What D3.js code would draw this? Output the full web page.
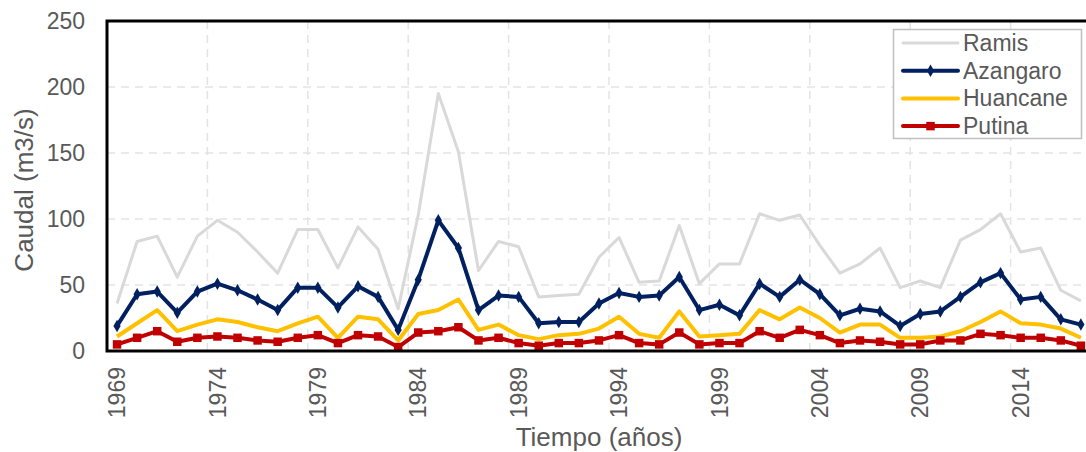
<!DOCTYPE html>
<html>
<body>
    <style>
        body, html {
            margin: 0;
            padding: 0;
            background: #fff;
            overflow: hidden;
        }
        svg text {
            font-family: "Liberation Sans", Arial, sans-serif;
            fill: #595959;
        }
    </style>

    <svg width="1086" height="452"></svg>

    <script src="https://d3js.org/d3.v7.min.js"></script>

    <script>
        var years = d3.range(1969, 2018);

        var ramis = [36, 83, 87, 56, 87, 99, 90, 75, 59, 92, 92, 63, 94, 77, 32, 103, 195, 151, 61, 83,
                     79, 41, 42, 43, 71, 86, 52, 53, 95, 51, 66, 66, 104, 99, 103, 80, 59, 66, 78, 48,
                     53, 48, 84, 92, 104, 75, 78, 46, 38];
        var azangaro = [19, 43, 45, 29, 45, 51, 46, 39, 31, 48, 48, 33, 49, 41, 16, 54, 99, 78, 31, 42,
                        41, 21, 22, 22, 36, 44, 41, 42, 56, 31, 35, 27, 51, 41, 54, 43, 27, 32, 30, 19,
                        28, 30, 41, 52, 59, 39, 41, 24, 20];
        var huancane = [11, 21, 31, 15, 20, 24, 22, 18, 15, 21, 26, 10, 26, 24, 8, 28, 31, 39, 16, 20,
                        12, 9, 12, 13, 17, 26, 13, 10, 30, 11, 12, 13, 31, 24, 33, 25, 14, 20, 20, 10,
                        10, 11, 15, 22, 30, 21, 20, 17, 10];
        var putina = [5, 10, 15, 7, 10, 11, 10, 8, 7, 10, 12, 6, 12, 11, 3, 14, 15, 18, 8, 10,
                      6, 4, 6, 6, 8, 12, 6, 5, 14, 5, 6, 6, 15, 10, 16, 12, 6, 8, 7, 5,
                      5, 8, 8, 13, 12, 10, 10, 8, 4];
        var yTicks = [0, 50, 100, 150, 200, 250];
        var xLabelYears = years.filter(function (y) { return (y - 1969) % 5 === 0; });

        var series = [
            { name: "Ramis", values: ramis, color: "#d9d9d9", width: 3, marker: null },
            { name: "Azangaro", values: azangaro, color: "#002060", width: 4, marker: "diamond" },
            { name: "Huancane", values: huancane, color: "#ffc000", width: 4, marker: null },
            { name: "Putina", values: putina, color: "#c00000", width: 4, marker: "square" }
        ];

        var svg = d3.select("svg");
        var plotLeft = 107, plotTop = 21, plotBottom = 351, plotRight = 107 + 49 * 20.08;

        var x = d3.scaleBand().domain(years).range([plotLeft, plotRight]).padding(0);
        var y = d3.scaleLinear().domain([0, 250]).range([plotBottom, plotTop]);
        var cx = function (yr) { return x(yr) + x.bandwidth() / 2; };

        // GRID
        var grid = svg.append("g");
        grid.selectAll(".hg").data(yTicks.filter(function (t) { return t > 0 && t < 250; }))
            .enter().append("line")
            .attr("x1", plotLeft).attr("x2", plotRight)
            .attr("y1", function (d) { return y(d); }).attr("y2", function (d) { return y(d); })
            .attr("stroke", "#e3e3e3").attr("stroke-width", 1.5).attr("stroke-dasharray", "8,6");
        grid.selectAll(".vg").data(xLabelYears.slice(1))
            .enter().append("line")
            .attr("x1", function (d) { return x(d); }).attr("x2", function (d) { return x(d); })
            .attr("y1", plotTop).attr("y2", plotBottom)
            .attr("stroke", "#e3e3e3").attr("stroke-width", 1.5).attr("stroke-dasharray", "8,6");

        // LINES
        var line = d3.line()
            .x(function (d, i) { return cx(years[i]); })
            .y(function (d) { return y(d); });

        var diamond = d3.symbol().type(d3.symbolDiamond).size(45);
        var square = d3.symbol().type(d3.symbolSquare).size(72);

        series.forEach(function (s) {
            svg.append("path")
                .datum(s.values)
                .attr("fill", "none")
                .attr("stroke", s.color)
                .attr("stroke-width", s.width)
                .attr("stroke-linejoin", "round")
                .attr("d", line);

            if (s.marker) {
                svg.append("g").selectAll("path").data(s.values).enter().append("path")
                    .attr("transform", function (d, i) { return "translate(" + cx(years[i]) + "," + y(d) + ")"; })
                    .attr("d", s.marker === "diamond" ? diamond : square)
                    .attr("fill", s.color);
            }
        });

        // FRAME
        svg.append("path")
            .attr("d", "M" + (plotRight + 5) + "," + plotTop + "H" + plotLeft + "V" + plotBottom + "H" + (plotRight + 5))
            .attr("fill", "none").attr("stroke", "#000").attr("stroke-width", 3);

        // Y AXIS LABELS
        svg.selectAll(".yl").data(yTicks).enter().append("text")
            .attr("x", 85).attr("y", function (d) { return y(d); })
            .attr("dy", "0.35em")
            .attr("text-anchor", "end")
            .style("font-size", "23px")
            .text(function (d) { return d; });

        // X AXIS LABELS
        svg.selectAll(".xl").data(xLabelYears).enter().append("text")
            .attr("transform", function (d) { return "translate(" + cx(d) + ",367) rotate(-90)"; })
            .attr("dy", "0.35em")
            .attr("text-anchor", "end")
            .style("font-size", "23px")
            .text(function (d) { return d; });

        // TITLES
        svg.append("text")
            .attr("transform", "translate(33,190) rotate(-90)")
            .attr("text-anchor", "middle")
            .style("font-size", "26px")
            .text("Caudal (m3/s)");

        svg.append("text")
            .attr("x", 599).attr("y", 446)
            .attr("text-anchor", "middle")
            .style("font-size", "26px")
            .text("Tiempo (años)");

        // LEGEND
        var legend = svg.append("g");
        legend.append("rect")
            .attr("x", 893.5).attr("y", 29.5).attr("width", 188).attr("height", 109)
            .attr("fill", "#fff").attr("stroke", "#bfbfbf").attr("stroke-width", 1.5);

        series.forEach(function (s, i) {
            var ly = 43 + i * 27.7;
            legend.append("line")
                .attr("x1", 903).attr("x2", 958).attr("y1", ly).attr("y2", ly)
                .attr("stroke", s.color).attr("stroke-width", s.width).attr("stroke-linecap", "round");
            if (s.marker) {
                legend.append("path")
                    .attr("transform", "translate(930.5," + ly + ")")
                    .attr("d", s.marker === "diamond" ? diamond : square)
                    .attr("fill", s.color);
            }
            legend.append("text")
                .attr("x", 963).attr("y", ly).attr("dy", "0.35em")
                .style("font-size", "23px")
                .text(s.name);
        });
    </script>
</body>
</html>
